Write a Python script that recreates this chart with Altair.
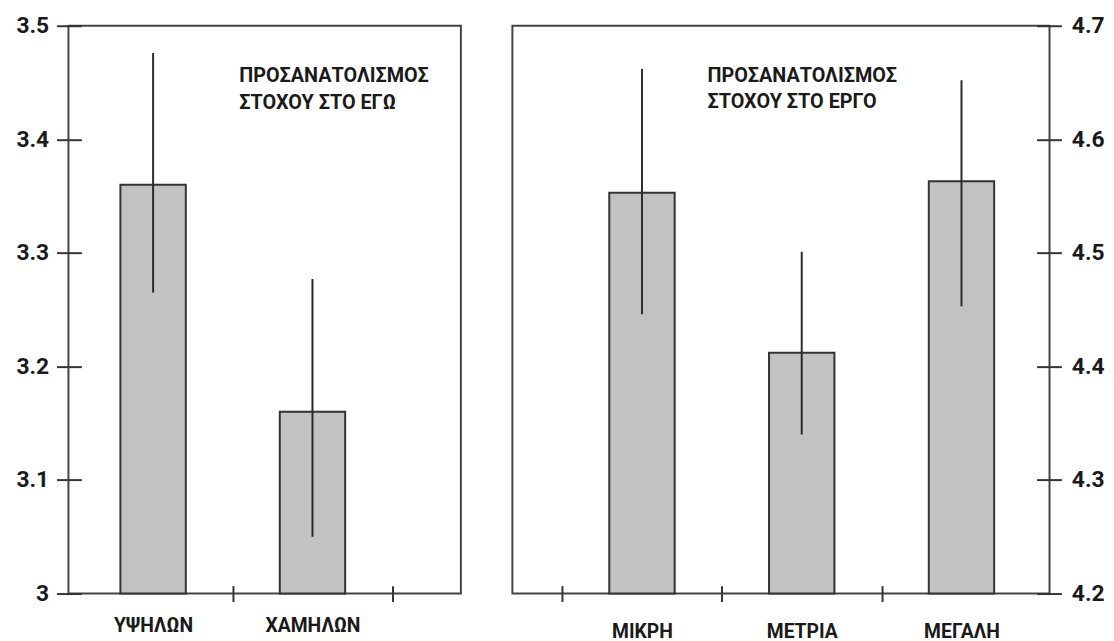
import json
import altair as alt
import pandas as pd

# ---------------- data ----------------
left_cats = ["ΥΨΗΛΩΝ", "ΧΑΜΗΛΩΝ"]
left_mean = [3.36, 3.16]
left_low = [3.265, 3.05]
left_high = [3.476, 3.277]
left_yticks = [3, 3.1, 3.2, 3.3, 3.4, 3.5]
left_note = "ΠΡΟΣΑΝΑΤΟΛΙΣΜΟΣ\nΣΤΟΧΟΥ ΣΤΟ ΕΓΩ"

right_cats = ["ΜΙΚΡΗ", "ΜΕΤΡΙΑ", "ΜΕΓΑΛΗ"]
right_mean = [4.553, 4.412, 4.563]
right_low = [4.446, 4.340, 4.453]
right_high = [4.662, 4.501, 4.652]
right_yticks = [4.2, 4.3, 4.4, 4.5, 4.6, 4.7]
right_note = "ΠΡΟΣΑΝΑΤΟΛΙΣΜΟΣ\nΣΤΟΧΟΥ ΣΤΟ ΕΡΓΟ"

FONT = "Roboto"
INK = "#1a1a1a"


def panel(cats, mean, low, high, yticks, note, *, width, xdomain, xticks,
          note_x, note_y, yorient, y_label_pad, x_label_pad):
    pos = list(range(1, len(cats) + 1))
    df = pd.DataFrame({
        "cat": cats,
        "pos": pos,
        "mean": mean,
        "low": low,
        "high": high,
        "base": [yticks[0]] * len(cats),
    })
    xs = alt.Scale(domain=xdomain, nice=False, zero=False)
    ys = alt.Scale(domain=[yticks[0], yticks[-1]], nice=False, zero=False)
    label_expr = json.dumps(cats, ensure_ascii=False) + "[datum.value - 1]"

    base = alt.Chart(df)

    bars = base.mark_bar(size=66, fill="#c2c2c2", stroke="#333333",
                         strokeWidth=2).encode(
        x=alt.X("pos:Q", scale=xs, title=None,
                axis=alt.Axis(orient="bottom", values=xticks, labels=False,
                              ticks=True, tickSize=16, offset=-8,
                              tickColor="#333333", tickWidth=2,
                              domain=False, grid=False)),
        y=alt.Y("mean:Q", scale=ys, title=None,
                axis=alt.Axis(orient=yorient, values=yticks, labels=False,
                              ticks=True, tickSize=25, offset=-13,
                              tickColor="#333333", tickWidth=2,
                              domain=False, grid=False)),
        y2="base:Q",
    )

    rules = base.mark_rule(color="#2a2a2a", strokeWidth=2).encode(
        x=alt.X("pos:Q", scale=xs, title=None,
                axis=alt.Axis(orient="bottom", values=pos, ticks=False,
                              tickSize=0, labelExpr=label_expr,
                              labelFont=FONT, labelFontSize=19.5,
                              labelFontWeight="bold",
                              labelColor=INK, labelPadding=x_label_pad,
                              domain=False, grid=False)),
        y=alt.Y("low:Q", scale=ys, title=None,
                axis=alt.Axis(orient=yorient, values=yticks, ticks=False,
                              tickSize=0, format="~g", labelFont=FONT,
                              labelFontSize=23, labelFontWeight="bold",
                              labelColor=INK, labelPadding=y_label_pad,
                              domain=False, grid=False)),
        y2="high:Q",
    )

    ann_df = pd.DataFrame({"x": [note_x], "y": [note_y], "t": [note]})
    text = alt.Chart(ann_df).mark_text(
        align="left", baseline="top", font=FONT, fontSize=20,
        fontWeight="bold", lineHeight=26.5, lineBreak="\n", color=INK,
    ).encode(
        x=alt.X("x:Q", scale=xs, axis=None),
        y=alt.Y("y:Q", scale=ys, axis=None),
        text="t:N",
    )

    return alt.layer(bars, rules, text).resolve_axis(
        x="independent", y="independent"
    ).properties(width=width, height=573)


left = panel(left_cats, left_mean, left_low, left_high, left_yticks, left_note,
             width=396, xdomain=[0.5, 2.9], xticks=[1.5, 2.5],
             note_x=1.541, note_y=3.464, yorient="left",
             y_label_pad=20, x_label_pad=23)

right = panel(right_cats, right_mean, right_low, right_high, right_yticks,
              right_note, width=542, xdomain=[0.22, 3.52],
              xticks=[0.5, 1.5, 2.5], note_x=1.41, note_y=4.6646,
              yorient="right", y_label_pad=22, x_label_pad=29)

chart = alt.hconcat(left, right, spacing=50).properties(
    padding={"left": 6, "top": 3, "right": 0, "bottom": 0},
    background="white",
).configure_view(
    stroke="#444444", strokeWidth=2
)

chart.save("out.html", embed_options={"renderer": "svg", "actions": False})
